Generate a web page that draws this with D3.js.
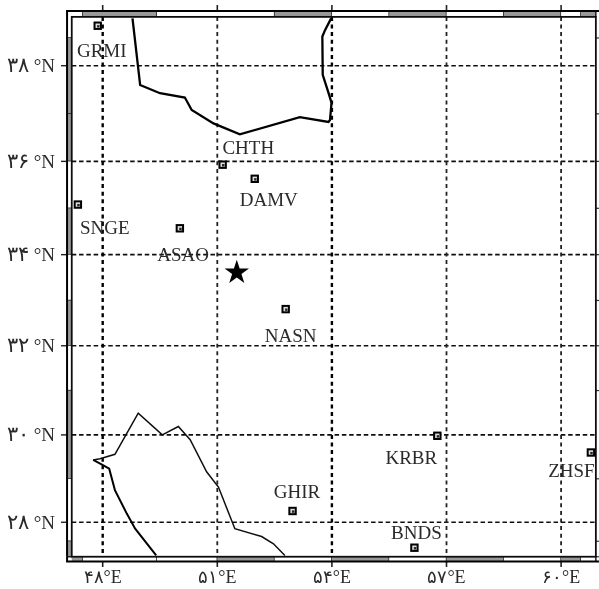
<!DOCTYPE html>
<html>
<head>
<meta charset="utf-8">
<script src="https://d3js.org/d3.v7.min.js"></script>
<style>
body { margin: 0; background: #fff; }
text { font-family: "Liberation Serif", "DejaVu Serif", serif; fill: #2a2a2a; }
</style>
</head>
<body>
<script>
// station names and positions (lon, lat)
var stationNames = ["GRMI", "CHTH", "DAMV", "SNGE", "ASAO", "NASN", "KRBR", "ZHSF", "GHIR", "BNDS"];
var stationLon = [47.87, 51.14, 51.98, 47.35, 50.02, 52.79, 56.76, 60.78, 52.97, 56.16];
var stationLat = [38.82, 35.93, 35.63, 35.08, 34.57, 32.81, 29.98, 29.60, 28.26, 27.41];
var epicenter = [51.51, 33.61];

// coast lines, caspian at the top and gulf at the bottom
var northCoast = [[48.78, 38.97], [48.98, 37.60], [49.50, 37.43], [50.15, 37.34], [50.33, 37.08], [50.90, 36.80],
    [51.59, 36.57], [53.16, 36.93], [53.91, 36.83], [53.95, 36.87], [53.99, 37.23], [53.93, 37.39],
    [53.76, 37.81], [53.75, 38.60], [53.82, 38.73], [53.98, 38.97]];
var southCoastThick = [[49.40, 27.23], [48.85, 27.85], [48.63, 28.20], [48.32, 28.74], [48.17, 29.23],
    [47.97, 29.33], [47.75, 29.43]];
var southCoastThin = [[47.75, 29.43], [47.93, 29.46], [48.32, 29.56], [48.93, 30.49], [49.56, 30.00], [49.98, 30.19],
    [50.29, 29.89], [50.72, 29.16], [51.03, 28.81], [51.46, 27.85], [52.16, 27.67], [52.47, 27.50], [52.77, 27.23]];

var lonTicks = [48, 51, 54, 57, 60];
var latTicks = [38, 36, 34, 32, 30, 28];
var lonLabels = ["۴۸", "۵۱", "۵۴", "۵۷", "۶۰"];
var latLabels = ["۳۸", "۳۶", "۳۴", "۳۲", "۳۰", "۲۸"];

// map limits and the places where the border band changes shade
var lonRange = [47.19, 60.91];
var latRange = [27.2, 39.0];
var topBreaks = [47.19, 47.48, 49.42, 52.5, 54, 55.5, 57, 58.5, 60, 60.52, 60.91];
var topShade = [0, 1, 0, 1, 0, 1, 0, 1, 0, 1];
var bottomBreaks = [47.19, 47.48, 49.42, 51, 52.5, 54, 55.5, 57, 58.5, 60, 60.52, 60.91];
var bottomShade = [1, 0, 0, 1, 0, 1, 0, 1, 0, 1, 0];
var leftBreaks = [39.0, 38.57, 37, 36, 35, 34, 33, 32, 31, 29, 27.56, 27.2];
var leftShade = [0, 1, 1, 0, 1, 0, 1, 0, 1, 0, 1];

var width = 599;
var height = 589;
var bandSize = 4.7;
var topBand = 6;

var projection = d3.geoMercator()
    .scale(38.2 * 180 / Math.PI)
    .center([48, 38])
    .translate([102.7, 65.7]);

function px(lon, lat) { return projection([lon, lat]); }

var svg = d3.select("body").append("svg")
    .attr("width", width)
    .attr("height", height)
    .style("display", "block");

svg.append("defs").append("filter")
    .attr("id", "scan")
    .append("feGaussianBlur")
    .attr("stdDeviation", 0.5);

var map = svg.append("g").attr("filter", "url(#scan)");

var left = px(lonRange[0], 38)[0];
var right = px(lonRange[1], 38)[0];
var top_ = px(48, latRange[1])[1];
var bottom = px(48, latRange[0])[1];

// grid
latTicks.forEach(function (lat) {
    var y = px(48, lat)[1];
    map.append("line")
        .attr("x1", left).attr("x2", right)
        .attr("y1", y).attr("y2", y)
        .attr("stroke", "#111")
        .attr("stroke-width", 1.6)
        .attr("stroke-dasharray", "4.5,2.8");
    map.append("line")
        .attr("x1", 61).attr("x2", left)
        .attr("y1", y).attr("y2", y)
        .attr("stroke", "#222")
        .attr("stroke-width", 1.4);
});

lonTicks.forEach(function (lon) {
    var x = px(lon, 38)[0];
    var heavy = lon == 48 || lon == 54;
    map.append("line")
        .attr("x1", x).attr("x2", x)
        .attr("y1", top_).attr("y2", bottom)
        .attr("stroke", heavy ? "#000" : "#222")
        .attr("stroke-width", heavy ? 2.4 : 1.8)
        .attr("stroke-dasharray", "4,3.6");
    map.append("line")
        .attr("x1", x).attr("x2", x)
        .attr("y1", 5).attr("y2", top_)
        .attr("stroke", "#222")
        .attr("stroke-width", 1.6);
    map.append("line")
        .attr("x1", x).attr("x2", x)
        .attr("y1", bottom).attr("y2", 567)
        .attr("stroke", "#222")
        .attr("stroke-width", 1.6);
});

// border band
function shade(v) { return v ? "#999" : "#fff"; }

topBreaks.slice(1).forEach(function (b, i) {
    var x0 = px(topBreaks[i], 38)[0];
    var x1 = px(b, 38)[0];
    map.append("rect").attr("x", x0).attr("y", top_ - topBand)
        .attr("width", x1 - x0).attr("height", topBand)
        .attr("fill", shade(topShade[i]));
    map.append("line").attr("x1", x1).attr("x2", x1)
        .attr("y1", top_ - topBand).attr("y2", top_)
        .attr("stroke", "#111").attr("stroke-width", 1.4);
});

bottomBreaks.slice(1).forEach(function (b, i) {
    var x0 = px(bottomBreaks[i], 38)[0];
    var x1 = px(b, 38)[0];
    map.append("rect").attr("x", x0).attr("y", bottom)
        .attr("width", x1 - x0).attr("height", bandSize)
        .attr("fill", shade(bottomShade[i]));
    map.append("line").attr("x1", x1).attr("x2", x1)
        .attr("y1", bottom).attr("y2", bottom + bandSize)
        .attr("stroke", "#111").attr("stroke-width", 1.4);
});

leftBreaks.slice(1).forEach(function (b, i) {
    var y0 = px(48, leftBreaks[i])[1];
    var y1 = px(48, b)[1];
    map.append("rect").attr("x", left - bandSize).attr("y", y0)
        .attr("width", bandSize).attr("height", y1 - y0)
        .attr("fill", shade(leftShade[i]));
    map.append("line").attr("x1", left - bandSize).attr("x2", left)
        .attr("y1", y1).attr("y2", y1)
        .attr("stroke", "#111").attr("stroke-width", 1.4);
    // right side only shows the tick stubs, the band runs off the page
    map.append("line").attr("x1", right).attr("x2", width)
        .attr("y1", y1).attr("y2", y1)
        .attr("stroke", "#333").attr("stroke-width", 1.2);
});

map.append("rect")
    .attr("x", left).attr("y", top_)
    .attr("width", right - left).attr("height", bottom - top_)
    .attr("fill", "none").attr("stroke", "#111").attr("stroke-width", 1.8);

map.append("path")
    .attr("d", "M" + (left - bandSize) + "," + bottom + "V" + (top_ - topBand) + "H" + width)
    .attr("fill", "none").attr("stroke", "#000").attr("stroke-width", 2);
map.append("path")
    .attr("d", "M" + (left - bandSize) + "," + bottom + "V" + (bottom + bandSize) + "H" + width)
    .attr("fill", "none").attr("stroke", "#000").attr("stroke-width", 2);

// coasts
var coastLine = d3.line()
    .x(function (d) { return px(d[0], d[1])[0]; })
    .y(function (d) { return px(d[0], d[1])[1]; });

map.append("path").attr("d", coastLine(northCoast))
    .attr("fill", "none").attr("stroke", "#000").attr("stroke-width", 2.3);
map.append("path").attr("d", coastLine(southCoastThick))
    .attr("fill", "none").attr("stroke", "#000").attr("stroke-width", 2);
map.append("path").attr("d", coastLine(southCoastThin))
    .attr("fill", "none").attr("stroke", "#111").attr("stroke-width", 1.5);

// label offsets from the station square, x to text centre and y to baseline
var labelDx = [4, 25.6, 14, 27, 3.3, 5, -26, -19.5, 4.5, 2];
var labelDy = [31, -11, 27, 29, 33, 32.5, 28, 24.5, -13, -9];

stationNames.forEach(function (name, i) {
    var p = px(stationLon[i], stationLat[i]);
    map.append("rect")
        .attr("x", p[0] - 3.2).attr("y", p[1] - 3.2)
        .attr("width", 6.4).attr("height", 6.4)
        .attr("fill", "#ddd").attr("stroke", "#000").attr("stroke-width", 2);
    map.append("rect")
        .attr("x", p[0] - 0.6).attr("y", p[1] - 0.6)
        .attr("width", 2.4).attr("height", 2.4)
        .attr("fill", "#222");
    map.append("text")
        .attr("x", p[0] + labelDx[i])
        .attr("y", p[1] + labelDy[i])
        .attr("text-anchor", "middle")
        .style("font-size", "19px")
        .text(name);
});

var star = px(epicenter[0], epicenter[1]);
map.append("path")
    .attr("d", d3.symbol().type(d3.symbolStar).size(185)())
    .attr("transform", "translate(" + star[0] + "," + star[1] + ")")
    .attr("fill", "#000");

// tick labels
latTicks.forEach(function (lat, i) {
    var label = map.append("text")
        .attr("x", 55)
        .attr("y", px(48, lat)[1] + 6.5)
        .attr("text-anchor", "end")
        .style("font-size", "19px");
    label.append("tspan")
        .style("font-size", "21px")
        .style("letter-spacing", "1px")
        .text(latLabels[i]);
    label.append("tspan").attr("dx", 5).text("°N");
});

lonTicks.forEach(function (lon, i) {
    map.append("text")
        .attr("x", px(lon, 38)[0])
        .attr("y", 583)
        .attr("text-anchor", "middle")
        .style("font-size", "18px")
        .text(lonLabels[i] + "°E");
});
</script>
</body>
</html>
